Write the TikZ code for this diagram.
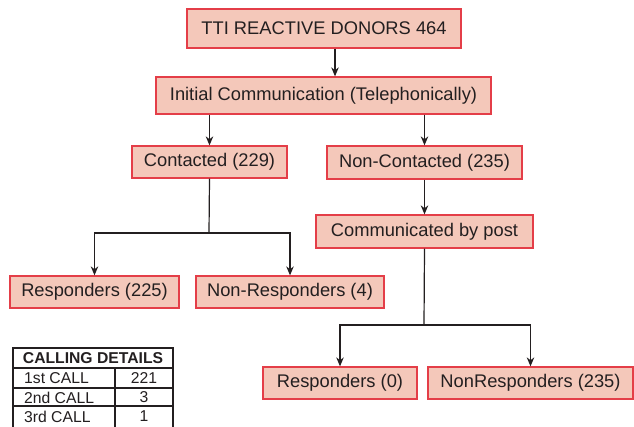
\documentclass[tikz,border=0pt]{standalone}
\usepackage{fontspec}
\setmainfont{Liberation Sans}
\usetikzlibrary{arrows.meta}
\definecolor{boxfill}{RGB}{244,200,186}
\definecolor{boxline}{RGB}{228,62,72}
\definecolor{ink}{RGB}{35,31,32}
\tikzset{
  fbox/.style={draw=boxline, fill=boxfill, line width=1.3pt, inner sep=0pt,
    text=ink, font=\fontsize{18.3}{20}\selectfont},
  arr/.style={draw=ink, line width=1.2pt, -{Stealth[length=9pt,width=7.5pt]}},
  ln/.style={draw=ink, line width=1.2pt},
  tline/.style={draw=ink, line width=1.1pt},
  ttext/.style={text=ink, inner sep=0pt, font=\fontsize{15.7}{17}\selectfont},
}
\begin{document}
\begin{tikzpicture}[x=1pt,y=-1pt]
\useasboundingbox (0,0) rectangle (634,426);
\fill[white] (0,0) rectangle (634,426);
\node[fbox, minimum width=274pt, minimum height=39pt] (top) at (324,28.5) {TTI REACTIVE DONORS 464};
\node[fbox, minimum width=335pt, minimum height=37pt] (init) at (323.5,95.5) {Initial Communication (Telephonically)};
\node[fbox, minimum width=155pt, minimum height=32pt] (cont) at (209.5,162) {Contacted (229)};
\node[fbox, minimum width=195pt, minimum height=33pt] (ncont) at (424.5,162.5) {Non-Contacted (235)};
\node[fbox, minimum width=217pt, minimum height=33pt] (post) at (424.5,231.5) {Communicated by post};
\node[fbox, minimum width=169pt, minimum height=32pt] (resp1) at (94.5,292) {Responders (225)};
\node[fbox, minimum width=188pt, minimum height=32pt] (nresp1) at (290,292) {Non-Responders (4)};
\node[fbox, minimum width=154pt, minimum height=32pt] (resp0) at (340,383) {Responders (0)};
\node[fbox, minimum width=205pt, minimum height=32pt] (nresp0) at (530.5,383) {NonResponders (235)};

\coordinate (j1) at (209,233);
\coordinate (j2) at (424,325);

\draw[arr] (top.south -| 335,0) -- (init.north -| 335,0);
\draw[arr] (init.south -| cont.north) -- (cont.north);
\draw[arr] (init.south -| ncont.north) -- (ncont.north);
\draw[ln] (cont.south) -- (j1);
\draw[arr] (j1) -| (resp1.north);
\draw[arr] (j1) -| (nresp1.north);
\draw[arr] (ncont.south) -- (post.north);
\draw[ln] (post.south) -- (j2);
\draw[arr] (j2) -| (resp0.north);
\draw[arr] (j2) -| (nresp0.north);

% table
\draw[tline] (13,348) rectangle (173,432);
\draw[tline] (13,368) -- (173,368);
\draw[tline] (13,388) -- (173,388);
\draw[tline] (13,406) -- (173,406);
\draw[tline] (115,368) -- (115,432);
\node[ttext, font=\fontsize{15.7}{17}\selectfont\bfseries] (th) at (93,358.5) {CALLING DETAILS};
\node[ttext, anchor=west] (r1) at (24,378.5) {1st CALL};
\node[ttext, anchor=west] (r2) at (24,397.5) {2nd CALL};
\node[ttext, anchor=west] (r3) at (24,416.5) {3rd CALL};
\node[ttext] (v1) at (144,378.5) {221};
\node[ttext] (v2) at (144,397.5) {3};
\node[ttext] (v3) at (144,416.5) {1};
\end{tikzpicture}
\end{document}
